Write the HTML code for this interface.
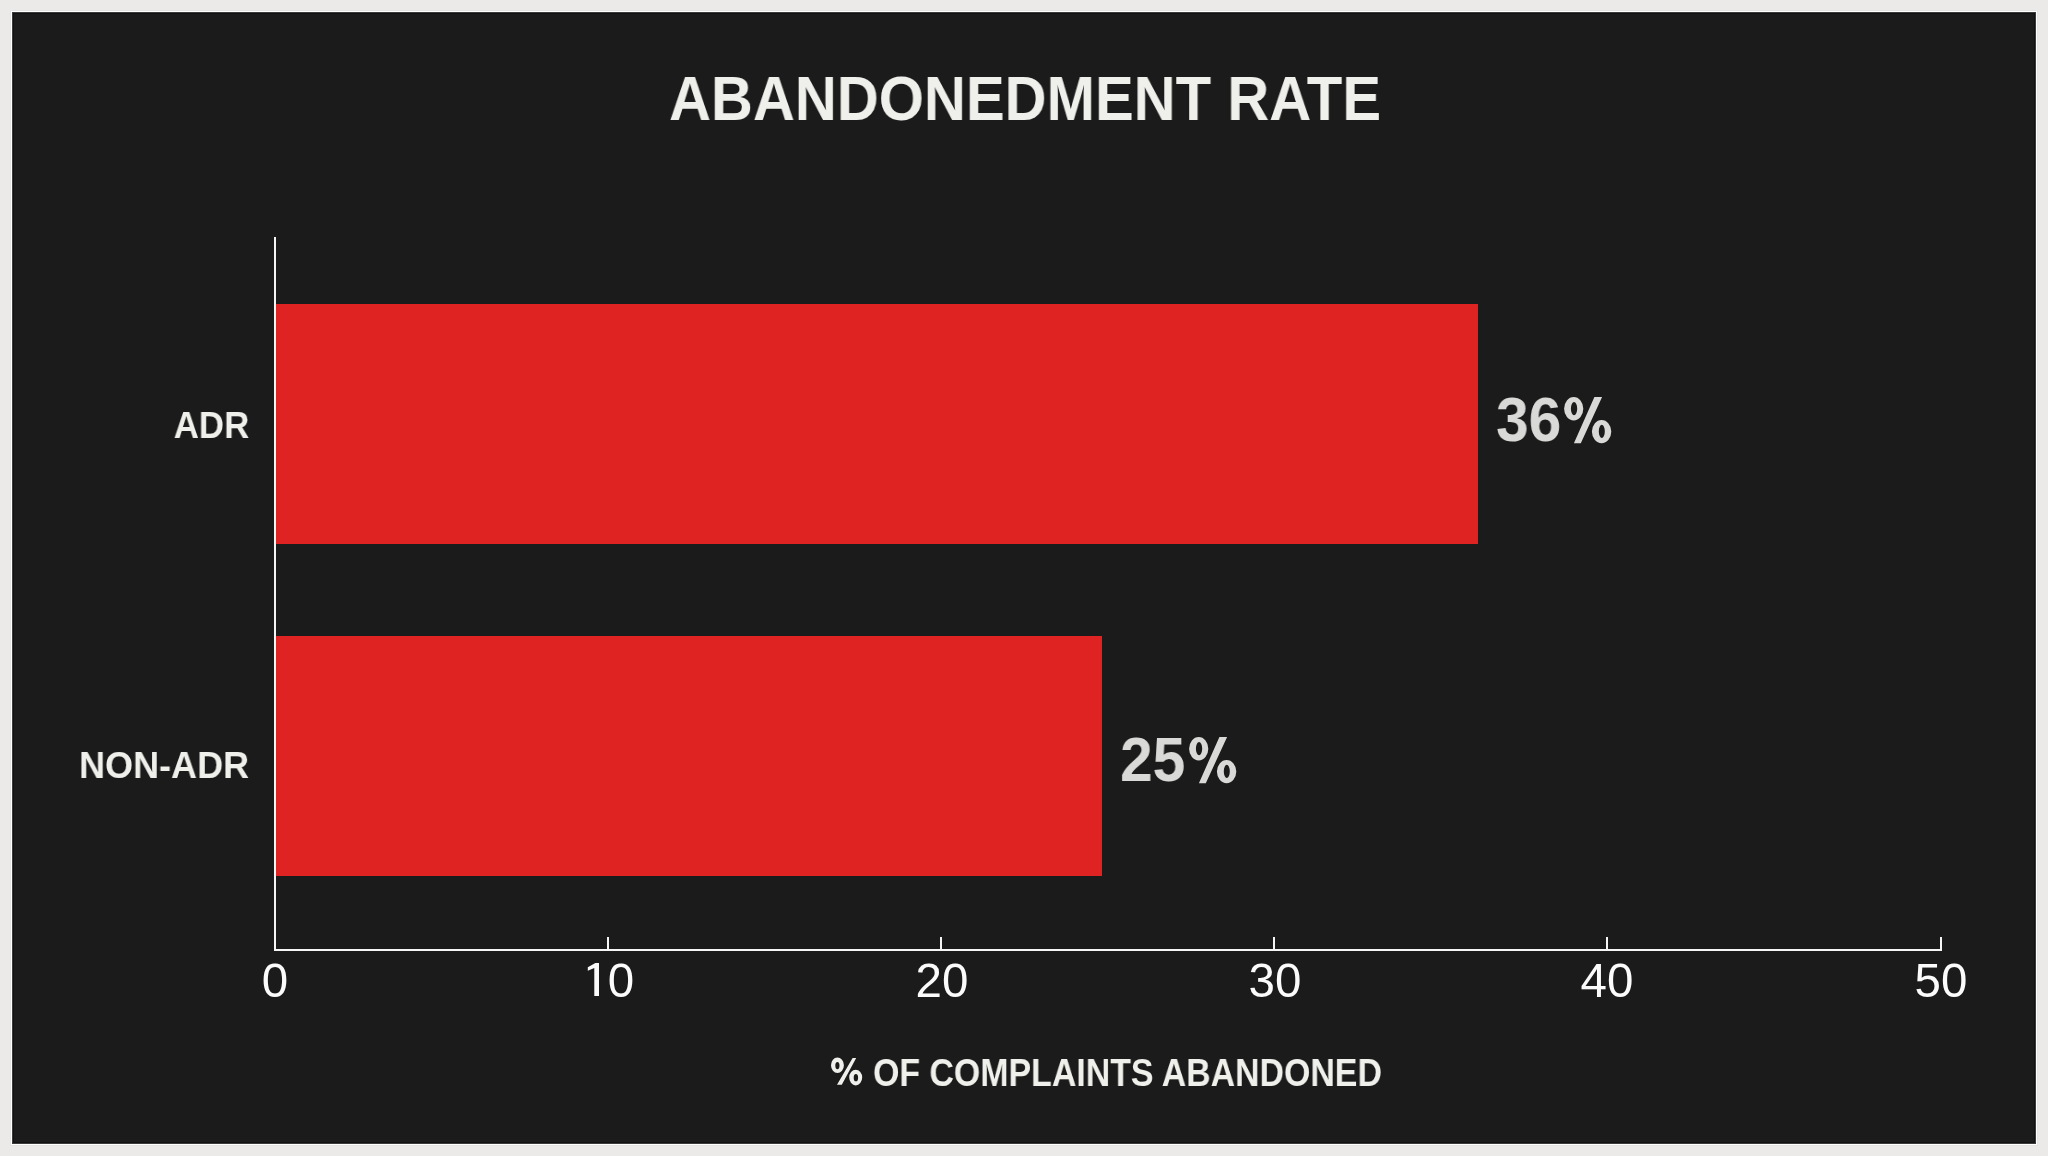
<!DOCTYPE html>
<html>
<head>
<meta charset="utf-8">
<style>
html,body{margin:0;padding:0;}
body{width:2048px;height:1156px;background:#ebeae8;position:relative;overflow:hidden;font-family:"Liberation Sans",sans-serif;}
.panel{position:absolute;left:12px;top:12px;width:2024px;height:1132px;background:#1b1b1b;box-shadow:0 0 0 1px #fff,0 0 0 2px #e4e4e2,inset 0 0 0 1px #3c3c3c,inset 0 0 0 2px #121212;}
.t{position:absolute;white-space:nowrap;line-height:1;will-change:transform;}
.bar{position:absolute;background:#df2222;}
.ln{position:absolute;background:#f6f6f6;}
.tick{position:absolute;top:957px;width:120px;margin-left:-60px;text-align:center;font-size:47.5px;color:#fbfbfb;line-height:1;will-change:transform;}
</style>
</head>
<body>
<div class="panel"></div>
<div class="t" id="title" style="left:668.5px;top:67px;font-size:63px;font-weight:bold;color:#efefeb;transform:scaleX(0.922);transform-origin:0 0;">ABANDONEDMENT RATE</div>

<div class="ln" style="left:274px;top:237px;width:2px;height:714px;"></div>
<div class="ln" style="left:274px;top:949px;width:1668px;height:2px;"></div>
<div class="ln" style="left:607px;top:937px;width:2px;height:12px;"></div>
<div class="ln" style="left:940px;top:937px;width:2px;height:12px;"></div>
<div class="ln" style="left:1273px;top:937px;width:2px;height:12px;"></div>
<div class="ln" style="left:1606px;top:937px;width:2px;height:12px;"></div>
<div class="ln" style="left:1940px;top:937px;width:2px;height:12px;"></div>

<div class="bar" style="left:276px;top:304px;width:1202px;height:240px;"></div>
<div class="bar" style="left:276px;top:636px;width:826px;height:240px;"></div>

<div class="t" id="adr" style="right:1799px;top:407px;font-size:37.5px;font-weight:bold;color:#efefeb;transform:scaleX(0.93);transform-origin:100% 0;">ADR</div>
<div class="t" id="nonadr" style="right:1799px;top:747px;font-size:37.5px;font-weight:bold;color:#efefeb;transform:scaleX(0.96);transform-origin:100% 0;">NON-ADR</div>

<div class="t" id="v1" style="left:1496px;top:388px;font-size:63.5px;font-weight:bold;color:#d9d9d7;transform:scaleX(0.925);transform-origin:0 0;">36</div>
<svg style="position:absolute;left:1564px;top:396.8px;overflow:visible" width="48" height="47" viewBox="0 0 48 47"><path fill="#d9d9d7" fill-rule="evenodd" d="M0.1 11.7a9.6 11.7 0 1 0 19.2 0a9.6 11.7 0 1 0 -19.2 0ZM6.9 11.7a3.15 6.6 0 1 0 6.3 0a3.15 6.6 0 1 0 -6.3 0ZM27.9 34.6a9.7 11.6 0 1 0 19.4 0a9.7 11.6 0 1 0 -19.4 0ZM34.8 34.4a3.0 6.6 0 1 0 6.0 0a3.0 6.6 0 1 0 -6.0 0ZM30.4 0L38.1 0L16.8 46.2L9.9 46.2Z"/></svg>
<div class="t" id="v2" style="left:1120px;top:728px;font-size:63.5px;font-weight:bold;color:#d9d9d7;transform:scaleX(0.925);transform-origin:0 0;">25</div>
<svg style="position:absolute;left:1189px;top:736.8px;overflow:visible" width="48" height="47" viewBox="0 0 48 47"><path fill="#d9d9d7" fill-rule="evenodd" d="M0.1 11.7a9.6 11.7 0 1 0 19.2 0a9.6 11.7 0 1 0 -19.2 0ZM6.9 11.7a3.15 6.6 0 1 0 6.3 0a3.15 6.6 0 1 0 -6.3 0ZM27.9 34.6a9.7 11.6 0 1 0 19.4 0a9.7 11.6 0 1 0 -19.4 0ZM34.8 34.4a3.0 6.6 0 1 0 6.0 0a3.0 6.6 0 1 0 -6.0 0ZM30.4 0L38.1 0L16.8 46.2L9.9 46.2Z"/></svg>

<div class="tick" style="left:275px;">0</div>
<svg style="position:absolute;left:0;top:0;overflow:visible" width="1" height="1"><path fill="#fbfbfb" d="M594.3 996.1L599.0 996.1L599.0 963.0L595.4 963.0L587.8 967.3L587.8 970.7L594.3 967.9Z"/></svg>
<div class="tick" style="left:621.3px;">0</div>
<div class="tick" style="left:941.5px;">20</div>
<div class="tick" style="left:1274.5px;">30</div>
<div class="tick" style="left:1607px;">40</div>
<div class="tick" style="left:1941px;">50</div>

<svg style="position:absolute;left:0;top:0;overflow:visible" width="1" height="1"><path fill="#efefeb" fill-rule="evenodd" d="M831.0 1065.25a6.45 7.85 0 1 0 12.9 0a6.45 7.85 0 1 0 -12.9 0ZM835.3 1065.55a2.1 3.6 0 1 0 4.2 0a2.1 3.6 0 1 0 -4.2 0ZM849.2 1077.6a6.5 7.8 0 1 0 13.0 0a6.5 7.8 0 1 0 -13.0 0ZM853.7 1077.65a2.2 3.65 0 1 0 4.4 0a2.2 3.65 0 1 0 -4.4 0ZM852.6 1058.0L856.2 1058.0L841.8 1084.7L837.0 1084.7Z"/></svg>
<div class="t" id="xt" style="left:872.5px;top:1052.5px;font-size:39.5px;font-weight:bold;color:#efefeb;transform:scaleX(0.858);transform-origin:0 0;word-spacing:0px;">OF COMPLAINTS ABANDONED</div>
</body>
</html>
